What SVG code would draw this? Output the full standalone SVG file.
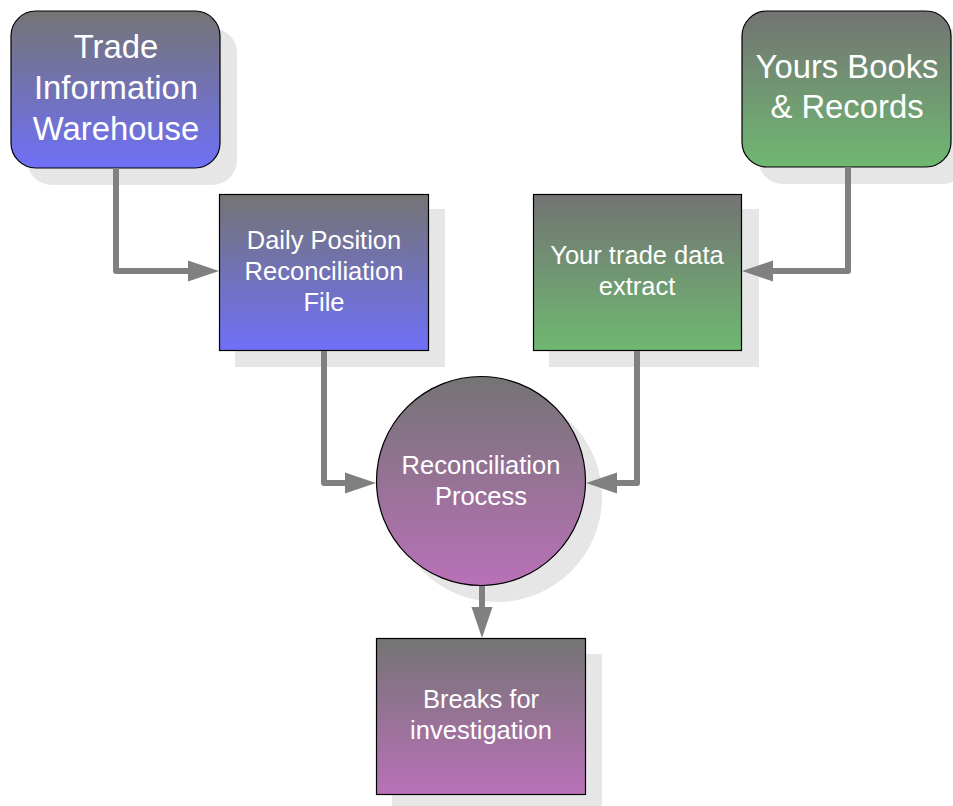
<svg xmlns="http://www.w3.org/2000/svg" width="953" height="806" viewBox="0 0 953 806">
<defs>
<linearGradient id="gBlue" x1="0" y1="0" x2="0" y2="1"><stop offset="0" stop-color="#747474"/><stop offset="1" stop-color="#6f70f7"/></linearGradient>
<linearGradient id="gGreen" x1="0" y1="0" x2="0" y2="1"><stop offset="0" stop-color="#737373"/><stop offset="1" stop-color="#6fb872"/></linearGradient>
<linearGradient id="gPurple" x1="0" y1="0" x2="0" y2="1"><stop offset="0" stop-color="#747474"/><stop offset="1" stop-color="#b971b8"/></linearGradient>
<marker id="arr" markerUnits="userSpaceOnUse" markerWidth="32" markerHeight="22" refX="0" refY="10.5" orient="auto" overflow="visible">
<path d="M0,0 L31,10.5 L0,21 z" fill="#808080"/>
</marker>
<style>
.sh{fill:#e6e6e6}
.nd{stroke:#000;stroke-width:1.2}
.t{fill:#fff;text-anchor:middle;font-family:'Liberation Sans',Arial,sans-serif}
.big{font-size:32.8px}
.sm{font-size:25.5px}
.cn{fill:none;stroke:#808080;stroke-width:6;stroke-linejoin:round}
</style>
</defs>
<g id="tiw">
<rect class="sh" x="27" y="28" width="210" height="157" rx="25"/>
<rect class="nd" x="11" y="11" width="209" height="157" rx="25" fill="url(#gBlue)"/>
<text class="t big" x="116" y="58">Trade</text>
<text class="t big" x="116" y="99">Information</text>
<text class="t big" x="116" y="140">Warehouse</text>
</g>
<g id="books">
<rect class="sh" x="758" y="27" width="210" height="157" rx="25"/>
<rect class="nd" x="742" y="11" width="209" height="156" rx="25" fill="url(#gGreen)"/>
<text class="t big" x="847" y="78">Yours Books</text>
<text class="t big" x="847" y="118">&amp; Records</text>
</g>
<g id="dpr">
<rect class="sh" x="235" y="209" width="210" height="158"/>
<rect class="nd" x="219.5" y="194.5" width="209" height="156" fill="url(#gBlue)"/>
<text class="t sm" x="324" y="249">Daily Position</text>
<text class="t sm" x="324" y="280">Reconciliation</text>
<text class="t sm" x="324" y="311">File</text>
</g>
<g id="extract">
<rect class="sh" x="549" y="209" width="210" height="158"/>
<rect class="nd" x="533.5" y="194.5" width="208" height="156" fill="url(#gGreen)"/>
<text class="t sm" x="637" y="264">Your trade data</text>
<text class="t sm" x="637" y="295">extract</text>
</g>
<g id="process">
<circle class="sh" cx="497" cy="497" r="105"/>
<circle class="nd" cx="481" cy="481" r="104.5" fill="url(#gPurple)"/>
<text class="t sm" x="481" y="474">Reconciliation</text>
<text class="t sm" x="481" y="505">Process</text>
</g>
<g id="breaks">
<rect class="sh" x="392" y="654" width="210" height="158"/>
<rect class="nd" x="376.5" y="638.5" width="209" height="156" fill="url(#gPurple)"/>
<text class="t sm" x="481" y="708">Breaks for</text>
<text class="t sm" x="481" y="739">investigation</text>
</g>
<g id="connectors">
<path class="cn" d="M116,168 V271 H188" marker-end="url(#arr)"/>
<path class="cn" d="M848,167 V271 H773" marker-end="url(#arr)"/>
<path class="cn" d="M324,351 V483 H345" marker-end="url(#arr)"/>
<path class="cn" d="M637,351 V483 H617" marker-end="url(#arr)"/>
<path class="cn" d="M482,586 V607" marker-end="url(#arr)"/>
</g>
</svg>
